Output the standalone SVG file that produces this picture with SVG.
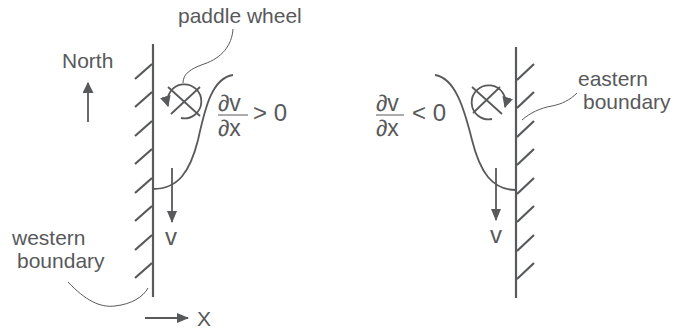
<svg xmlns="http://www.w3.org/2000/svg" width="673" height="332" viewBox="0 0 673 332">
<style>
.t{font-family:"Liberation Sans",Arial,sans-serif;font-size:21px;fill:#58595b}
.f{font-family:"Liberation Sans",Arial,sans-serif;font-size:23px;fill:#58595b}
.g{font-family:"Liberation Sans",Arial,sans-serif;font-size:24px;fill:#58595b}
.w{stroke:#58595b;stroke-width:2.2;fill:none}
.l{stroke:#58595b;stroke-width:1.8;fill:none}
.th{stroke:#58595b;stroke-width:1;fill:none}
</style>
<defs>
<marker id="ah" viewBox="0 0 10 10" refX="9" refY="5" markerWidth="11" markerHeight="11" markerUnits="userSpaceOnUse" orient="auto"><path d="M0,0 L10,5 L0,10 Z" fill="#58595b"/></marker>
<marker id="ahb" viewBox="0 0 12 10" refX="11" refY="5" markerWidth="13" markerHeight="10" markerUnits="userSpaceOnUse" orient="auto"><path d="M0,0 L12,5 L0,10 Z" fill="#58595b"/></marker>
</defs>
<g id="west-wall">
<path class="w" d="M153,44 V297"/>
<path class="w" d="M135,79 L152,64 M135,107 L152,92 M135,136 L152,121 M135,164 L152,149 M135,193 L152,178 M135,221 L152,206 M135,250 L152,235 M135,278 L152,263"/>
</g>
<g id="east-wall">
<path class="w" d="M516,47 V298"/>
<path class="w" d="M517,80 L534,64 M517,108 L534,92 M517,137 L534,121 M517,165 L534,149 M517,194 L534,178 M517,222 L534,206 M517,251 L534,235 M517,279 L534,263"/>
</g>
<g id="north">
<text class="t" x="62" y="68">North</text>
<path class="l" d="M88,122 V83" marker-end="url(#ah)"/>
</g>
<g id="west-profile">
<path class="l" d="M153,189 C178,189 190,172 198,140 C205,108 212,78 233,75"/>
</g>
<g id="east-profile">
<path class="l" d="M516,190 C492,190 480,172 472,140 C464,108 455,78 435,75"/>
</g>
<g id="west-paddle">
<path class="l" d="M181,118 A17,17 0 1 0 168,106" marker-end="url(#ah)"/>
<path class="l" d="M168,87 L200,116 M200,87 L171,114"/>
</g>
<g id="east-paddle">
<path class="l" d="M492,119 A17,17 0 1 1 505,107" marker-end="url(#ah)"/>
<path class="l" d="M472,87 L502,114 M500,87 L473,113"/>
</g>
<g id="west-gradient">
<text class="f" x="218" y="111">∂v</text>
<path class="th" d="M218,115 H248"/>
<text class="f" x="218" y="136">∂x</text>
<text class="g" x="253" y="121">&gt; 0</text>
</g>
<g id="east-gradient">
<text class="f" x="376" y="111">∂v</text>
<path class="th" d="M376,115 H404"/>
<text class="f" x="376" y="136">∂x</text>
<text class="g" x="412" y="121">&lt; 0</text>
</g>
<g id="west-v">
<path class="l" d="M172,168 V222" marker-end="url(#ahb)"/>
<text class="g" x="165" y="245">v</text>
</g>
<g id="east-v">
<path class="l" d="M496,168 V220" marker-end="url(#ahb)"/>
<text class="g" x="490" y="243">v</text>
</g>
<g id="paddle-label">
<text class="t" x="178" y="23">paddle wheel</text>
</g>
<g id="western-label">
<text class="t" x="12" y="245">western</text>
<text class="t" x="17" y="268">boundary</text>
</g>
<g id="eastern-label">
<text class="t" x="578" y="86">eastern</text>
<text class="t" x="583" y="109">boundary</text>
</g>
<g id="x-axis">
<path class="l" d="M145,318 H188" marker-end="url(#ahb)"/>
<text class="t" x="197" y="326">X</text>
</g>
<g id="connectors">
<path class="th" d="M233,29 C232,45 222,58 204,64 C190,69 183,74 183,83"/>
<path class="th" d="M68,282 C85,300 100,308 115,306 C132,304 143,297 148,288"/>
<path class="th" d="M577,93 C570,100 562,104 552,106 C540,108 530,113 522,120"/>
</g>
</svg>
